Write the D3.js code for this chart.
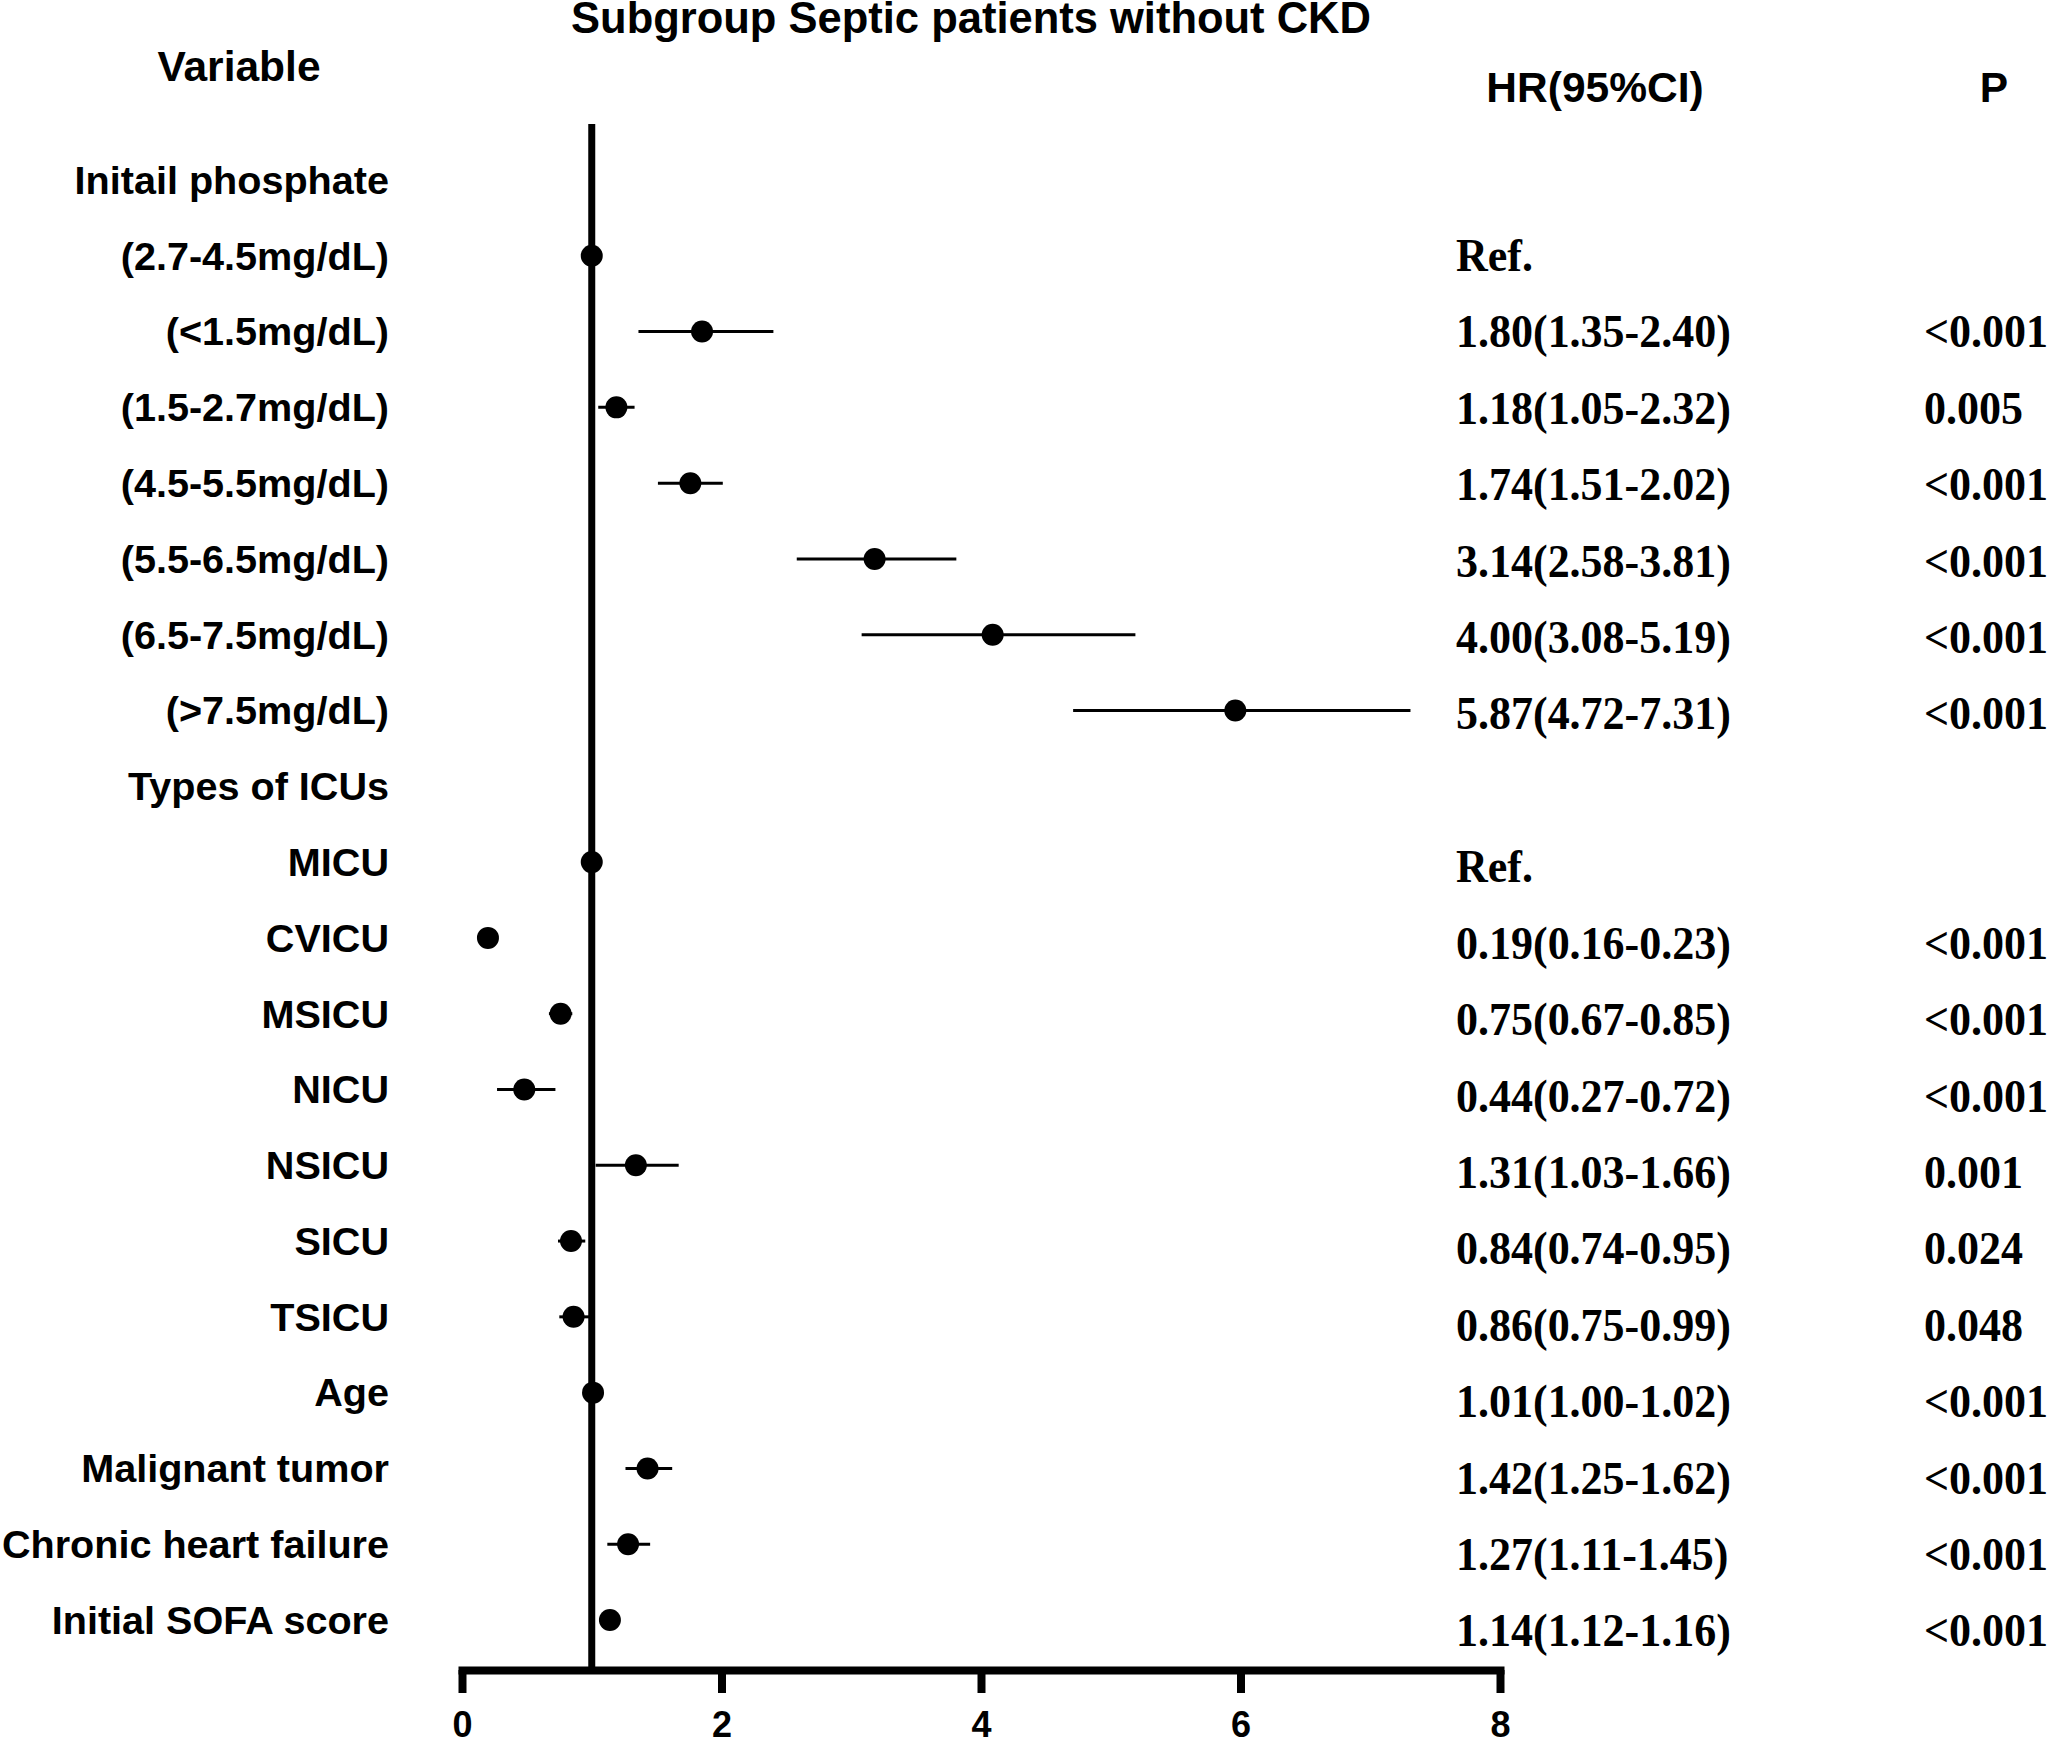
<!DOCTYPE html>
<html>
<head>
<meta charset="utf-8">
<script src="https://cdn.jsdelivr.net/npm/d3@7"></script>
<style>
  html, body { margin: 0; padding: 0; background: #fff; }
  svg { display: block; }
</style>
</head>
<body>
<svg id="chart" width="2047" height="1738"></svg>
<script>
// ---- data ----
const labels = [
  "Initail phosphate", "(2.7-4.5mg/dL)", "(<1.5mg/dL)", "(1.5-2.7mg/dL)", "(4.5-5.5mg/dL)",
  "(5.5-6.5mg/dL)", "(6.5-7.5mg/dL)", "(>7.5mg/dL)", "Types of ICUs", "MICU", "CVICU",
  "MSICU", "NICU", "NSICU", "SICU", "TSICU", "Age", "Malignant tumor",
  "Chronic heart failure", "Initial SOFA score"
];
const hr    = [null, 1.00, 1.85, 1.19, 1.76, 3.18, 4.09, 5.96, null, 1.00, 0.20, 0.76, 0.48, 1.34, 0.84, 0.86, 1.01, 1.43, 1.28, 1.14];
const lower = [null, 1.00, 1.36, 1.05, 1.51, 2.58, 3.08, 4.71, null, 1.00, 0.16, 0.67, 0.27, 1.03, 0.74, 0.75, 1.00, 1.26, 1.12, 1.12];
const upper = [null, 1.00, 2.40, 1.33, 2.01, 3.81, 5.19, 7.31, null, 1.00, 0.23, 0.85, 0.72, 1.67, 0.95, 0.99, 1.02, 1.62, 1.45, 1.16];
const hrText = [
  "", "Ref.", "1.80(1.35-2.40)", "1.18(1.05-2.32)", "1.74(1.51-2.02)", "3.14(2.58-3.81)",
  "4.00(3.08-5.19)", "5.87(4.72-7.31)", "", "Ref.", "0.19(0.16-0.23)", "0.75(0.67-0.85)",
  "0.44(0.27-0.72)", "1.31(1.03-1.66)", "0.84(0.74-0.95)", "0.86(0.75-0.99)",
  "1.01(1.00-1.02)", "1.42(1.25-1.62)", "1.27(1.11-1.45)", "1.14(1.12-1.16)"
];
const pText = [
  "", "", "<0.001", "0.005", "<0.001", "<0.001", "<0.001", "<0.001", "", "", "<0.001",
  "<0.001", "<0.001", "0.001", "0.024", "0.048", "<0.001", "<0.001", "<0.001", "<0.001"
];
const xTicks = [0, 2, 4, 6, 8];
const refValue = 1;
const title = "Subgroup Septic patients without CKD";

// ---- layout ----
const svg = d3.select("#chart");
svg.append("rect").attr("width", 2047).attr("height", 1738).attr("fill", "#fff");

const x = d3.scaleLinear().domain([0, 8]).range([462, 1500]);
const y = d3.scalePoint().domain(labels).range([180, 1620]);
const yText = d3.scalePoint().domain(labels).range([178, 1630]);
const axisY = 1670;

const sans = "'Liberation Sans', Arial, sans-serif";
const serif = "'Liberation Serif', 'Times New Roman', serif";

// title & headers
svg.append("text").attr("x", 971).attr("y", 33).attr("text-anchor", "middle")
  .attr("font-family", sans).attr("font-weight", "bold").attr("font-size", 43.5).text(title);
svg.append("text").attr("x", 239).attr("y", 81).attr("text-anchor", "middle")
  .attr("font-family", sans).attr("font-weight", "bold").attr("font-size", 42.5).text("Variable");
svg.append("text").attr("x", 1595).attr("y", 102).attr("text-anchor", "middle")
  .attr("font-family", sans).attr("font-weight", "bold").attr("font-size", 42.5).text("HR(95%CI)");
svg.append("text").attr("x", 1994).attr("y", 102).attr("text-anchor", "middle")
  .attr("font-family", sans).attr("font-weight", "bold").attr("font-size", 42.5).text("P");

// row labels
svg.append("g").selectAll("text").data(labels).join("text")
  .attr("x", 389).attr("y", d => y(d)).attr("dy", "0.35em")
  .attr("text-anchor", "end").attr("font-family", sans).attr("font-weight", "bold")
  .attr("font-size", 39.6).text(d => d);

// reference line
svg.append("line").attr("x1", x(refValue)).attr("x2", x(refValue))
  .attr("y1", 124).attr("y2", axisY).attr("stroke", "#000").attr("stroke-width", 7);

// CI lines & points
const rows = labels.map((d, i) => ({ label: d, hr: hr[i], lo: lower[i], hi: upper[i] }))
  .filter(d => d.hr !== null);
svg.append("g").selectAll("line").data(rows).join("line")
  .attr("x1", d => x(d.lo)).attr("x2", d => x(d.hi))
  .attr("y1", d => y(d.label)).attr("y2", d => y(d.label))
  .attr("stroke", "#000").attr("stroke-width", 3);
svg.append("g").selectAll("circle").data(rows).join("circle")
  .attr("cx", d => x(d.hr)).attr("cy", d => y(d.label)).attr("r", 11).attr("fill", "#000");

// HR and P text columns (slightly condensed serif)
const sx = 0.936;
svg.append("g").selectAll("text").data(labels.map((d, i) => ({ d, t: hrText[i] }))).join("text")
  .attr("transform", o => `translate(1456,${yText(o.d)}) scale(${sx},1)`).attr("dy", "0.35em")
  .attr("font-family", serif).attr("font-weight", "bold").attr("font-size", 47).text(o => o.t);
svg.append("g").selectAll("text").data(labels.map((d, i) => ({ d, t: pText[i] }))).join("text")
  .attr("transform", o => `translate(1924,${yText(o.d)}) scale(${sx},1)`).attr("dy", "0.35em")
  .attr("font-family", serif).attr("font-weight", "bold").attr("font-size", 47).text(o => o.t);

// x axis
const axis = svg.append("g").attr("transform", `translate(0,${axisY})`)
  .call(d3.axisBottom(x).tickValues(xTicks).tickSize(23).tickPadding(18).tickSizeOuter(0));
axis.select(".domain").attr("stroke", "#000").attr("stroke-width", 8).attr("stroke-linecap", "square");
axis.selectAll(".tick line").attr("stroke", "#000").attr("stroke-width", 8);
axis.selectAll(".tick text").attr("font-family", sans).attr("font-weight", "bold")
  .attr("font-size", 36).attr("fill", "#000");
</script>
</body>
</html>
